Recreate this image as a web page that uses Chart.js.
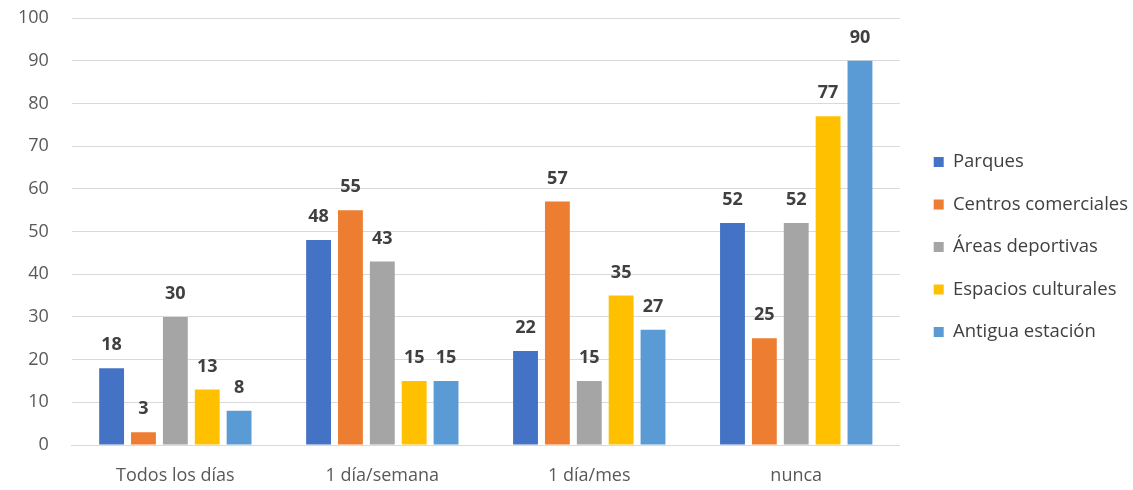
<!DOCTYPE html>
<html>
<head>
<meta charset="utf-8">
<script src="https://cdn.jsdelivr.net/npm/chart.js@4/dist/chart.umd.min.js"></script>
<style>
    html, body { margin: 0; padding: 0; background: #fff; }
    #wrap { width: 1133px; height: 490px; }
</style>
</head>
<body>
<div id="wrap"><canvas id="frecuenciaChart"></canvas></div>
<script>
// Categorías y series
const categorias = ['Todos los días', '1 día/semana', '1 día/mes', 'nunca'];
const parques = [18, 48, 22, 52];
const centrosComerciales = [3, 55, 57, 25];
const areasDeportivas = [30, 43, 15, 52];
const espaciosCulturales = [13, 15, 35, 77];
const antiguaEstacion = [8, 15, 27, 90];
const yTicks = [0, 10, 20, 30, 40, 50, 60, 70, 80, 90, 100];

const fuente = "'Open Sans', sans-serif";

// etiquetas de valor encima de cada barra
const etiquetasPlugin = {
    id: 'etiquetas',
    afterDatasetsDraw(chart) {
        const ctx = chart.ctx;
        ctx.save();
        ctx.font = 'bold 18px ' + fuente;
        ctx.fillStyle = '#404040';
        ctx.textAlign = 'center';
        ctx.textBaseline = 'middle';
        chart.data.datasets.forEach(function (ds, i) {
            const meta = chart.getDatasetMeta(i);
            meta.data.forEach(function (bar, j) {
                ctx.fillText(ds.data[j], bar.x, bar.y - 23);
            });
        });
        ctx.restore();
    }
};

// separa la leyenda del área del gráfico y la sube un poco
const leyendaPlugin = {
    id: 'moverLeyenda',
    afterLayout(chart) {
        const l = chart.legend;
        l.left += 10;
        l.right = chart.width;
        l.width = l.right - l.left;
        l.top -= 7;
        l.bottom -= 7;
    }
};

const ctx = document.getElementById('frecuenciaChart').getContext('2d');
const grafico = new Chart(ctx, {
    type: 'bar',
    data: {
        labels: categorias,
        datasets: [
            { label: 'Parques', data: parques, backgroundColor: '#4472C4' },
            { label: 'Centros comerciales', data: centrosComerciales, backgroundColor: '#ED7D31' },
            { label: 'Áreas deportivas', data: areasDeportivas, backgroundColor: '#A5A5A5' },
            { label: 'Espacios culturales', data: espaciosCulturales, backgroundColor: '#FFC000' },
            { label: 'Antigua estación', data: antiguaEstacion, backgroundColor: '#5B9BD5' }
        ]
    },
    options: {
        responsive: true,
        maintainAspectRatio: false,
        animation: false,
        barPercentage: 0.78,
        categoryPercentage: 0.77,
        layout: {
            padding: { top: 18, right: 5, bottom: 0, left: 0 }
        },
        plugins: {
            legend: {
                position: 'right',
                labels: {
                    boxWidth: 10,
                    boxHeight: 10,
                    padding: 24,
                    color: '#404040',
                    font: { family: fuente, size: 18.5 }
                }
            },
            tooltip: { enabled: false }
        },
        scales: {
            x: {
                afterFit: function (axis) {
                    axis.height = 45;
                },
                grid: { display: false },
                border: { color: '#d9d9d9', width: 1 },
                ticks: {
                    color: '#595959',
                    padding: 12,
                    font: { family: fuente, size: 18 }
                }
            },
            y: {
                min: 0,
                max: 100,
                afterBuildTicks: function (axis) {
                    axis.ticks = yTicks.map(function (v) { return { value: v }; });
                },
                afterFit: function (axis) {
                    axis.paddingTop = 0;
                    axis.paddingBottom = 0;
                    axis.width -= 5;
                },
                grid: { color: '#d9d9d9', drawTicks: false },
                border: { display: false },
                ticks: {
                    color: '#595959',
                    padding: 23,
                    font: { family: fuente, size: 18 }
                }
            }
        }
    },
    plugins: [etiquetasPlugin, leyendaPlugin]
});
</script>
</body>
</html>
